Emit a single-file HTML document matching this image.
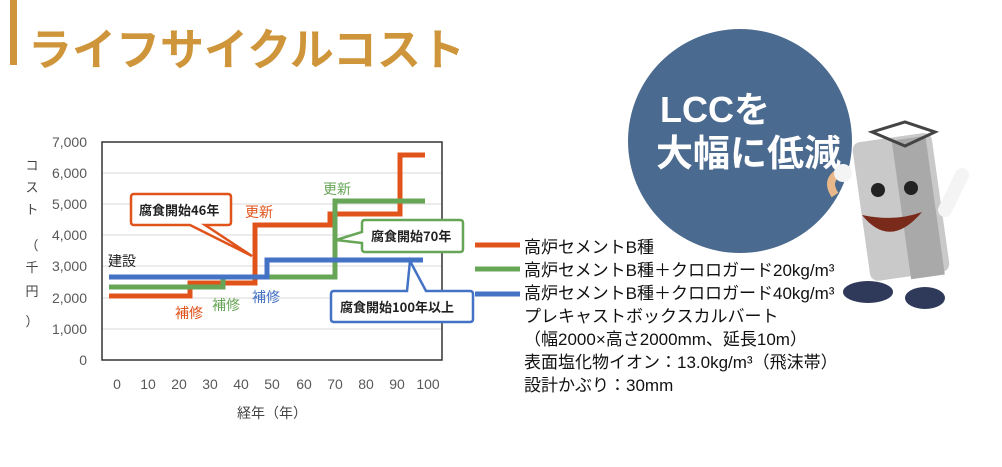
<!DOCTYPE html>
<html><head><meta charset="utf-8"><style>
body{margin:0;width:1002px;height:467px;background:#fff;position:relative;overflow:hidden;font-family:"Liberation Sans","Noto Sans CJK JP",sans-serif;}
.a{position:absolute;white-space:nowrap;}
.lg{position:absolute;left:524px;font-size:17px;color:#111;line-height:23px;white-space:pre;}
</style></head><body>
<div class="a" style="left:10px;top:0;width:7px;height:65px;background:#CF953A"></div>
<div class="a" style="left:28px;top:14px;font-size:44px;font-weight:bold;color:#CF953A;letter-spacing:0px">ライフサイクルコスト</div>

<svg class="a" style="left:0;top:0" width="1002" height="467">
<!-- circle -->
<circle cx="740" cy="141" r="112" fill="#4B6A8F"/>
<text x="660" y="122" font-size="36" font-weight="bold" fill="#fff" font-family="Liberation Sans,Noto Sans CJK JP,sans-serif">LCCを</text>
<text x="656" y="166" font-size="37" font-weight="bold" fill="#fff" font-family="Noto Sans CJK JP,sans-serif">大幅に低減</text>
<!-- character -->
<g>
<rect x="860" y="137" width="80" height="140" rx="8" fill="#c9c9c9" transform="rotate(-8 900 200)"/>
<rect x="900" y="140" width="34" height="140" fill="#a9a9a9" transform="rotate(-8 900 200)"/>
<path d="M872 132 L905 122 L935 132 L905 146Z" fill="none" stroke="#444" stroke-width="3"/>
<circle cx="878" cy="190" r="7" fill="#222"/><circle cx="911" cy="188" r="7" fill="#222"/>
<path d="M862 215 Q890 250 922 212 Q895 222 862 215Z" fill="#7a2a1a"/>
<path d="M835 195 Q825 180 840 172" stroke="#e8b88a" stroke-width="8" fill="none"/>
<circle cx="843" cy="173" r="9" fill="#f4f4f4"/>
<path d="M945 210 L962 175" stroke="#f4f4f4" stroke-width="14" stroke-linecap="round"/>
<ellipse cx="868" cy="292" rx="25" ry="11" fill="#2f3a5a"/>
<ellipse cx="925" cy="298" rx="20" ry="11" fill="#2f3a5a"/>
</g>
<!-- plot -->
<g stroke="#d9d9d9" stroke-width="1">
<line x1="102" y1="173" x2="442" y2="173"/><line x1="102" y1="204" x2="442" y2="204"/>
<line x1="102" y1="235" x2="442" y2="235"/><line x1="102" y1="266" x2="442" y2="266"/>
<line x1="102" y1="298" x2="442" y2="298"/><line x1="102" y1="329" x2="442" y2="329"/>
</g>
<rect x="102" y="142" width="340" height="218" fill="none" stroke="#333" stroke-width="1.5"/>
<g font-size="14" fill="#595959" text-anchor="end" font-family="Liberation Sans,sans-serif">
<text x="87" y="147">7,000</text><text x="87" y="178">6,000</text><text x="87" y="209">5,000</text>
<text x="87" y="240">4,000</text><text x="87" y="271">3,000</text><text x="87" y="303">2,000</text>
<text x="87" y="334">1,000</text><text x="87" y="365">0</text>
</g>
<g font-size="14" fill="#595959" text-anchor="middle" font-family="Liberation Sans,sans-serif">
<text x="117" y="389">0</text><text x="148" y="389">10</text><text x="179" y="389">20</text><text x="210" y="389">30</text>
<text x="241" y="389">40</text><text x="272" y="389">50</text><text x="304" y="389">60</text><text x="335" y="389">70</text>
<text x="366" y="389">80</text><text x="397" y="389">90</text><text x="428" y="389">100</text>
</g>
<text x="272" y="418" font-size="14" fill="#444" text-anchor="middle" font-family="Noto Sans CJK JP,sans-serif">経年（年）</text>
<g font-size="13" fill="#444" text-anchor="middle" font-family="Noto Sans CJK JP,sans-serif">
<text x="32" y="170">コ</text><text x="32" y="192">ス</text><text x="32" y="214">ト</text><text x="32" y="250">（</text>
<text x="32" y="272">千</text><text x="32" y="296">円</text><text x="32" y="326">）</text>
</g>
<!-- series -->
<polyline points="109,296 190,296 190,283 255,283 255,225 330,225 330,214 400,214 400,155 425,155" fill="none" stroke="#E0541C" stroke-width="5"/>
<polyline points="109,287 223,287 223,277 267,277 335,277 335,201 425,201" fill="none" stroke="#68A657" stroke-width="5"/>
<line x1="223" y1="275" x2="223" y2="287" stroke="#68A657" stroke-width="3"/>
<polyline points="109,277 267,277 267,260 423,260" fill="none" stroke="#4472C4" stroke-width="5"/>
<!-- labels -->
<g font-size="14" font-family="Noto Sans CJK JP,sans-serif">
<text x="108" y="266" fill="#222">建設</text>
<text x="175" y="318" fill="#E0541C">補修</text>
<text x="212" y="310" fill="#68A657">補修</text>
<text x="252" y="302" fill="#4472C4">補修</text>
<text x="245" y="217" fill="#E0541C">更新</text>
<text x="323" y="194" fill="#68A657">更新</text>
</g>
<!-- callouts -->
<path d="M134 194 L228 194 Q231 194 231 197 L231 222 Q231 225 228 225 L205 225 L252 256 L190 225 L134 225 Q131 225 131 222 L131 197 Q131 194 134 194Z" fill="#fff" stroke="#E0541C" stroke-width="2.5"/>
<text x="139" y="215" font-size="13" font-weight="bold" fill="#222" font-family="Noto Sans CJK JP,sans-serif">腐食開始46年</text>
<path d="M365 220 L460 220 Q463 220 463 223 L463 249 Q463 252 460 252 L365 252 Q362 252 362 249 L362 243 L336 240 L362 232 L362 223 Q362 220 365 220Z" fill="#fff" stroke="#68A657" stroke-width="2.5"/>
<text x="371" y="241" font-size="13" font-weight="bold" fill="#222" font-family="Noto Sans CJK JP,sans-serif">腐食開始70年</text>
<path d="M334 291 L407 291 L410 261 L426 291 L470 291 Q473 291 473 294 L473 319 Q473 322 470 322 L334 322 Q331 322 331 319 L331 294 Q331 291 334 291Z" fill="#fff" stroke="#4472C4" stroke-width="2.5"/>
<text x="340" y="312" font-size="13" font-weight="bold" fill="#222" font-family="Noto Sans CJK JP,sans-serif">腐食開始100年以上</text>
<!-- legend lines -->
<line x1="475" y1="245" x2="520" y2="245" stroke="#E0541C" stroke-width="5"/>
<line x1="475" y1="269" x2="520" y2="269" stroke="#68A657" stroke-width="5"/>
<line x1="475" y1="294" x2="520" y2="294" stroke="#4472C4" stroke-width="5"/>
</svg>
<div class="lg" style="top:236px">高炉セメントB種
高炉セメントB種＋クロロガード20kg/m³
高炉セメントB種＋クロロガード40kg/m³
プレキャストボックスカルバート
（幅2000×高さ2000mm、延長10m）
表面塩化物イオン：13.0kg/m³（飛沫帯）
設計かぶり：30mm</div>
</body></html>
